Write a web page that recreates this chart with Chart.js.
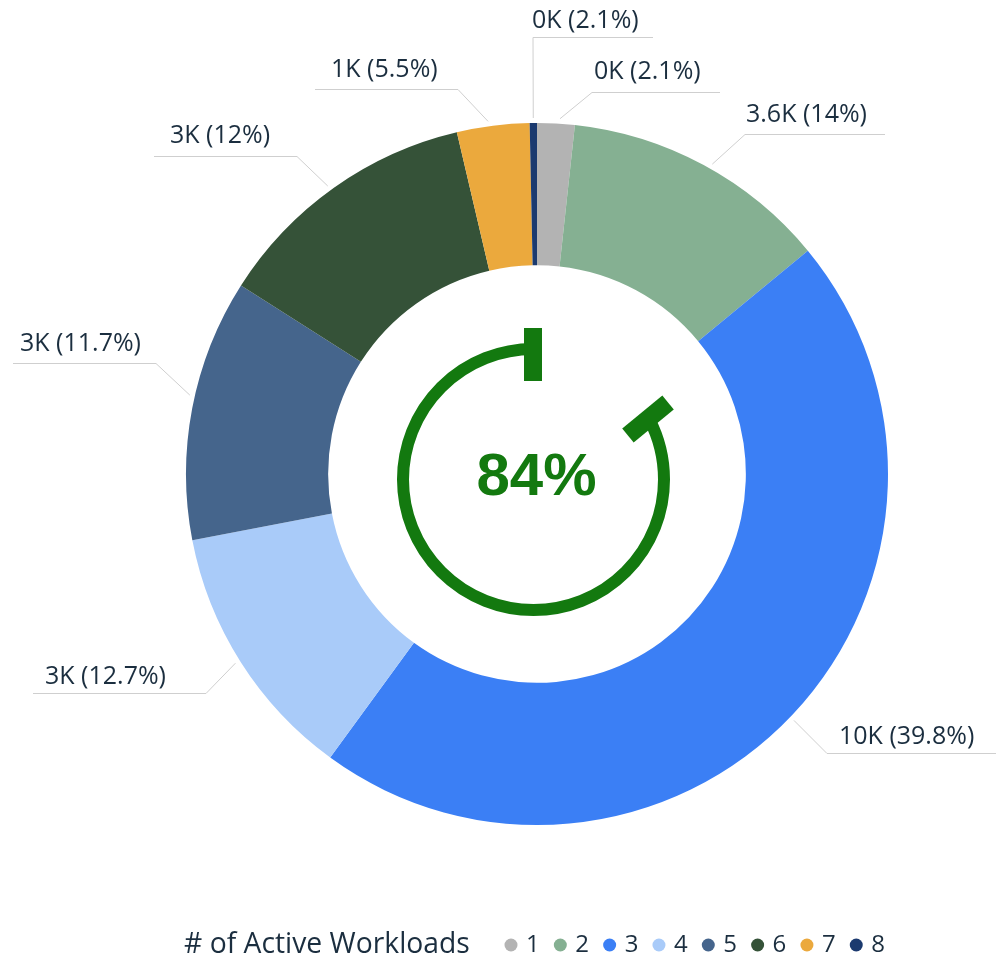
<!DOCTYPE html>
<html><head><meta charset="utf-8">
<style>html,body{margin:0;padding:0;background:#fff}#w{width:996px;height:958px;position:relative}</style>
<script src="https://cdn.jsdelivr.net/npm/chart.js@4"></script>
</head><body><div id="w"><canvas id="c" width="996" height="958"></canvas></div>
<script>
const categories = ['1','2','3','4','5','6','7','8'];
// drawn share of each slice (degrees of the ring)
const sliceValues = [6.2,44.3,165.6,43,43.4,44.3,12,1.2];
const sliceLabels = ['0K (2.1%)','3.6K (14%)','10K (39.8%)','3K (12.7%)','3K (11.7%)','3K (12%)','1K (5.5%)','0K (2.1%)'];
const sliceColors = ['#b3b3b3','#85b092','#3b7ff5','#a9cbf9','#45658c','#355238','#eba93d','#1b3a6f'];
const legendTitle = '# of Active Workloads';
const gaugeLabel = '84%';

// label layout: angle on ring where leader starts, elbow x, rule y, rule far end x, text left x, text baseline
const leaderAngle = [3.7,29.5,133.8,237.9,282.8,324,352.1,-0.6];
const elbowX  = [592,745,827,206,156,297,458,533];
const ruleY   = [92,134,753,693,363,156,89,37];
const ruleEnd = [720,885,996,33,13,154,315,653];
const textX   = [594,746,839,45,20,170,331,532];
const textY   = [79,122,744,684,351,143,77,28];

const TEXT='#1b2e3f', FONT='"Open Sans", sans-serif', GREEN='#13790f';

const annotations = {
  id:'annotations',
  afterLayout(chart){
    const l=chart.legend; const dy=90.4; l.top+=dy; l.bottom+=dy; l.left=490.4; l.right=996;
  },
  afterDraw(chart){
    const ctx=chart.ctx, arc=chart.getDatasetMeta(0).data[0];
    const cx=arc.x, cy=arc.y, R=arc.outerRadius;
    ctx.save();
    ctx.strokeStyle='#cfcfcf'; ctx.lineWidth=1;
    ctx.textBaseline='alphabetic'; ctx.textAlign='left';
    sliceLabels.forEach((t,i)=>{
      const a=leaderAngle[i]*Math.PI/180;
      ctx.beginPath();
      ctx.moveTo(cx+(R+5)*Math.sin(a), cy-(R+5)*Math.cos(a));
      ctx.lineTo(elbowX[i],ruleY[i]+.5);
      ctx.lineTo(ruleEnd[i],ruleY[i]+.5);
      ctx.stroke();
      ctx.fillStyle=TEXT; ctx.font='25px '+FONT;
      ctx.fillText(t,textX[i],textY[i]);
    });
    ctx.fillStyle=TEXT; ctx.font='28.3px '+FONT;
    ctx.fillText(legendTitle,184,953);

    // centre gauge
    const gx=cx-3.5, gy=cy+5.5, gr=130.5;
    ctx.strokeStyle=GREEN; ctx.lineWidth=12; ctx.lineCap='butt';
    ctx.beginPath();
    ctx.arc(gx,gy,gr,-Math.PI/2,(-90+62.5)*Math.PI/180,true);
    ctx.stroke();
    ctx.fillStyle=GREEN;
    ctx.fillRect(gx-9.5,gy-151.5,18,53);
    ctx.save();
    ctx.translate(648,419+cy-474); ctx.rotate(50.5*Math.PI/180);
    ctx.fillRect(-9,-26,18,52);
    ctx.restore();
    ctx.font='bold 60px "Liberation Sans", sans-serif';
    ctx.textAlign='center';
    ctx.fillText(gaugeLabel,cx-0.5,cy+21);
    ctx.restore();
  }
};

new Chart(document.getElementById('c'),{
  type:'doughnut',
  data:{labels:categories,datasets:[{data:sliceValues,backgroundColor:sliceColors,borderWidth:0}]},
  plugins:[annotations],
  options:{
    responsive:false,animation:false,cutout:'59.5%',
    layout:{padding:{left:186,right:108,top:123,bottom:81.4}},
    plugins:{
      tooltip:{enabled:false},
      legend:{display:true,position:'bottom',align:'start',
        labels:{usePointStyle:true,pointStyle:'circle',boxWidth:6,boxHeight:9.2,padding:17.6,color:TEXT,font:{family:'"Open Sans", sans-serif',size:24}}}
    }
  }
});
</script></body></html>
